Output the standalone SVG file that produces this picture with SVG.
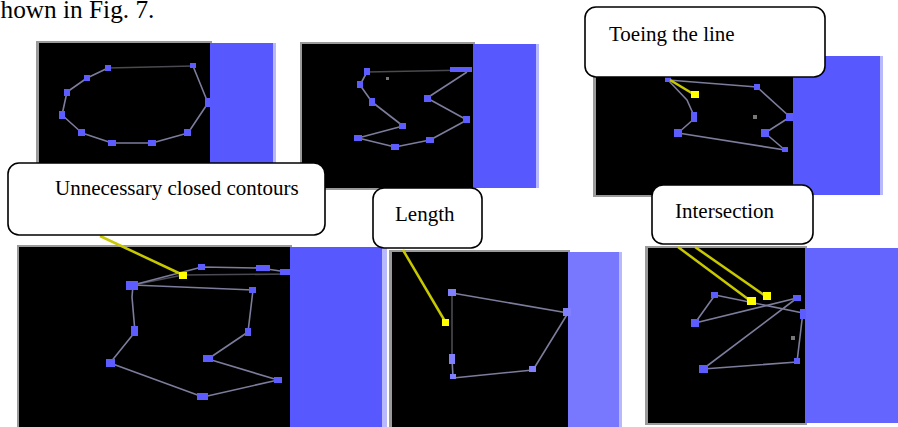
<svg xmlns="http://www.w3.org/2000/svg" width="898" height="427" viewBox="0 0 898 427">
<defs>
<style>
.bk{fill:#000}
.bl{fill:#5858ff}
.edge{fill:#b8b8ff}
.gb{fill:#9a9a9a}
.ct{fill:none;stroke:#7c7c9c;stroke-width:1.6;stroke-linejoin:round}
.dim{fill:none;stroke:#4a4a50;stroke-width:1.6}
.nd{fill:#5c5cff}
.yl{stroke:#c8c800;stroke-width:2.5;fill:none}
.yd{fill:#ffff00}
.box{fill:#fff;stroke:#000;stroke-width:1.6}
.t{font-family:"Liberation Serif","Times New Roman",serif;font-size:21px;fill:#000}
</style>
</defs>
<rect width="898" height="427" fill="#fff"/>
<text x="0.5" y="18" font-family="Liberation Serif, serif" font-size="25.3" fill="#000">hown in Fig. 7.</text>

<g id="panel1">
<rect class="gb" x="36" y="41" width="176" height="148"/>
<rect class="bk" x="39" y="43" width="171" height="146"/>
<rect class="bl" x="210" y="43" width="63" height="146"/>
<rect class="edge" x="273" y="43" width="3" height="146"/>
<path class="dim" d="M108,68 L193,66"/>
<polyline class="ct" points="193,66 208,103 188,133 152,143 112,143 82,133 62,115 67,92 87,78 108,68"/>
<g class="nd">
<rect x="105" y="65" width="6" height="6"/><rect x="190" y="63" width="6" height="5"/><rect x="205" y="98" width="5" height="9"/>
<rect x="184" y="129" width="7" height="7"/><rect x="148" y="140" width="8" height="6"/><rect x="108" y="140" width="8" height="6"/>
<rect x="78" y="129" width="7" height="7"/><rect x="59" y="111" width="6" height="8"/><rect x="64" y="89" width="6" height="7"/><rect x="84" y="75" width="6" height="6"/>
</g>
</g>

<g id="panel2">
<rect class="gb" x="300" y="42" width="175" height="148"/>
<rect class="bk" x="302" y="44" width="171" height="144"/>
<rect class="bl" x="473" y="44" width="63" height="144"/>
<rect class="edge" x="536" y="44" width="3" height="144"/>
<path class="dim" d="M367,72 L470,70"/>
<polyline class="ct" points="467,72 427,98 467,120 430,140 395,147 358,138 403,126 372,102 360,85 367,72"/>
<rect x="386" y="77" width="3" height="3" fill="#777"/>
<g class="nd">
<rect x="364" y="68" width="6" height="7"/><rect x="450" y="67" width="22" height="5"/><rect x="424" y="95" width="7" height="7"/>
<rect x="463" y="116" width="7" height="7"/><rect x="426" y="137" width="8" height="6"/><rect x="391" y="144" width="8" height="6"/>
<rect x="354" y="135" width="8" height="6"/><rect x="399" y="123" width="7" height="6"/><rect x="369" y="98" width="6" height="8"/><rect x="357" y="81" width="6" height="7"/>
</g>
</g>

<g id="panel3">
<rect class="gb" x="593" y="54" width="202" height="143"/>
<rect class="bk" x="596" y="56" width="197" height="139"/>
<rect class="bl" x="793" y="56" width="87" height="139"/>
<rect class="edge" x="880" y="56" width="3" height="139"/>
<polyline class="ct" points="668,80 757,87 790,117 765,133 785,150 678,133 695,118 687,100 668,80"/>
<rect x="753" y="115" width="4" height="4" fill="#777"/>
<g class="nd">
<rect x="665" y="77" width="6" height="5"/><rect x="754" y="84" width="6" height="6"/><rect x="786" y="113" width="7" height="8"/>
<rect x="761" y="129" width="8" height="8"/><rect x="782" y="147" width="6" height="5"/><rect x="674" y="129" width="8" height="8"/>
<rect x="691" y="112" width="6" height="10"/>
</g>
<path class="yl" d="M670,80 L695,95"/>
<rect class="yd" x="691" y="91" width="8" height="7"/>
</g>

<g id="panel4">
<rect class="gb" x="17" y="245" width="275" height="182"/>
<rect class="bk" x="19" y="247" width="271" height="180"/>
<rect class="bl" x="290" y="247" width="92" height="180"/>
<rect class="edge" x="382" y="247" width="5" height="180"/>
<path class="dim" d="M133,285 L183,275 L290,274"/>
<polyline class="ct" points="133,285 202,267 260,268 287,272"/>
<polyline class="ct" points="133,285 253,290 248,332 208,359 278,380 203,397 110,363 135,332 132,297 133,285"/>
<g class="nd">
<rect x="198" y="264" width="7" height="6"/><rect x="256" y="265" width="14" height="6"/><rect x="280" y="269" width="10" height="6"/>
<rect x="126" y="281" width="12" height="9"/><rect x="249" y="287" width="7" height="6"/><rect x="245" y="328" width="6" height="8"/>
<rect x="203" y="355" width="10" height="7"/><rect x="274" y="377" width="8" height="6"/><rect x="197" y="393" width="11" height="7"/>
<rect x="106" y="359" width="9" height="8"/><rect x="131" y="326" width="7" height="10"/>
</g>
<path class="yl" d="M100,236 L183,275"/>
<rect class="yd" x="179" y="272" width="8" height="7"/>
</g>

<g id="panel5">
<rect class="gb" x="389" y="250" width="181" height="177"/>
<rect class="bk" x="392" y="252" width="176" height="175"/>
<rect fill="#7878ff" x="568" y="252" width="51" height="175"/>
<rect class="edge" x="619" y="252" width="3" height="175"/>
<path class="dim" d="M452,293 L452,358"/>
<polyline class="ct" points="452,293 568,313 533,370 453,378 452,358"/>
<g fill="#8080ff">
<rect x="448" y="289" width="8" height="7"/><rect x="563" y="308" width="8" height="8"/><rect x="529" y="366" width="7" height="6"/>
<rect x="449" y="354" width="6" height="10"/><rect x="450" y="374" width="6" height="5"/>
</g>
<path class="yl" d="M403,250 L446,323"/>
<rect class="yd" x="442" y="319" width="7" height="7"/>
</g>

<g id="panel6">
<rect class="gb" x="645" y="246" width="162" height="179"/>
<rect class="bk" x="648" y="248" width="157" height="175"/>
<rect fill="#6464ff" x="805" y="248" width="93" height="175"/>
<polyline class="ct" points="715,295 695,323 797,298"/>
<polyline class="ct" points="715,295 803,313 802,320 797,362 703,369 797,298"/>
<rect x="791" y="336" width="4" height="4" fill="#777"/>
<g class="nd">
<rect x="711" y="292" width="7" height="6"/><rect x="691" y="319" width="8" height="8"/><rect x="793" y="295" width="8" height="6"/>
<rect x="800" y="309" width="6" height="10"/><rect x="794" y="358" width="6" height="6"/><rect x="699" y="365" width="9" height="8"/>
</g>
<path class="yl" d="M678,247 L752,302"/>
<path class="yl" d="M695,247 L767,297"/>
<rect class="yd" x="747" y="297" width="9" height="8"/>
<rect class="yd" x="763" y="292" width="8" height="8"/>
</g>

<g id="callout-toeing">
<rect class="box" x="585" y="7" width="240" height="70" rx="11"/>
<text class="t" x="609" y="41">Toeing the line</text>
</g>
<g id="callout-unnecessary">
<rect class="box" x="8" y="163" width="317" height="72" rx="11"/>
<text class="t" x="55" y="195">Unnecessary closed contours</text>
</g>
<g id="callout-length">
<rect class="box" x="373" y="188" width="109" height="60" rx="11"/>
<text class="t" x="395" y="221">Length</text>
</g>
<g id="callout-intersection">
<rect class="box" x="652" y="185" width="161" height="59" rx="11"/>
<text class="t" x="675" y="218">Intersection</text>
</g>
</svg>
